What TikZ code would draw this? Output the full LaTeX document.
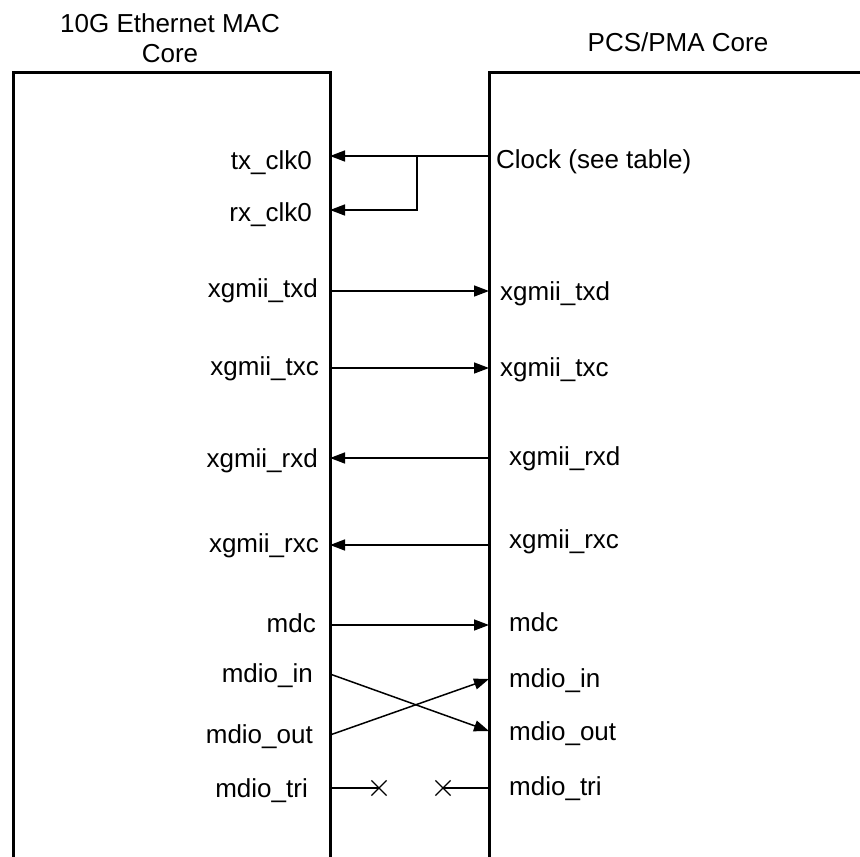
\documentclass[tikz,border=0pt]{standalone}
\usepackage{fontspec}
\setmainfont{Liberation Sans}
\usetikzlibrary{arrows.meta,shapes.misc}
\tikzset{
  core/.style={line width=3pt},
  sig/.style={line width=1.5pt},
  sigarr/.style={sig,-{Triangle[length=15pt,width=11pt]}},
  lbl/.style={inner sep=0pt,font=\fontsize{26}{30}\selectfont},
  lblL/.style={lbl,anchor=base east},
  lblR/.style={lbl,anchor=base west},
  xmark/.style={cross out,draw,line width=1.2pt,minimum size=14pt,inner sep=0pt},
}

\begin{document}
\begin{tikzpicture}[x=1pt,y=-1pt]
  \useasboundingbox (0,0) rectangle (860,857);
  % the two cores, open at the bottom
  \draw[core] (13,860) -- (13,72) -- (330,72) -- (330,860);
  \draw[core] (489,860) -- (489,72) -- (863,72);
  \node[lbl,anchor=base] (macA) at (170,32) {10G Ethernet MAC};
  \node[lbl,anchor=base] (macB) at (170,62) {Core};
  \node[lbl,anchor=base] (pcs) at (678,51) {PCS/PMA Core};

  % MAC side ports
  \node[lblL] (txclk) at (312,169) {tx\_clk0};
  \node[lblL] (rxclk) at (312,221) {rx\_clk0};
  \node[lblL] (txdL) at (318,297) {xgmii\_txd};
  \node[lblL] (txcL) at (319,375) {xgmii\_txc};
  \node[lblL] (rxdL) at (318,467) {xgmii\_rxd};
  \node[lblL] (rxcL) at (319,552) {xgmii\_rxc};
  \node[lblL] (mdcL) at (316,632) {mdc};
  \node[lblL] (mdinL) at (313,682) {mdio\_in};
  \node[lblL] (mdoutL) at (313,743) {mdio\_out};
  \node[lblL] (mdtriL) at (308,797) {mdio\_tri};

  % PCS/PMA side ports
  \node[lblR] (clk) at (496,168) {Clock (see table)};
  \node[lblR] (txdR) at (500,300) {xgmii\_txd};
  \node[lblR] (txcR) at (500,376) {xgmii\_txc};
  \node[lblR] (rxdR) at (509,465) {xgmii\_rxd};
  \node[lblR] (rxcR) at (509,548) {xgmii\_rxc};
  \node[lblR] (mdcR) at (509,631) {mdc};
  \node[lblR] (mdinR) at (509,687) {mdio\_in};
  \node[lblR] (mdoutR) at (509,740) {mdio\_out};
  \node[lblR] (mdtriR) at (509,795) {mdio\_tri};

  % pins on the core edges
  \coordinate (txclkP) at (330,156);
  \coordinate (rxclkP) at (330,210);
  \coordinate (clkP) at (489,156);
  \coordinate (clkJ) at (417,156);
  \coordinate (txdA) at (330,291);  \coordinate (txdB) at (489,291);
  \coordinate (txcA) at (330,368);  \coordinate (txcB) at (489,368);
  \coordinate (rxdA) at (330,458);  \coordinate (rxdB) at (489,458);
  \coordinate (rxcA) at (330,545);  \coordinate (rxcB) at (489,545);
  \coordinate (mdcA) at (330,625);  \coordinate (mdcB) at (489,625);
  \coordinate (mdinA) at (330,674); \coordinate (mdinB) at (489,679);
  \coordinate (mdoutA) at (330,735); \coordinate (mdoutB) at (489,731);
  \coordinate (mdtriA) at (330,788); \coordinate (mdtriB) at (489,788);
  \node[xmark] (xL) at (379,788) {};
  \node[xmark] (xR) at (443,788) {};

  % connections
  \draw[sigarr] (clkP) -- (txclkP);
  \draw[sigarr] (clkJ) |- (rxclkP);
  \draw[sigarr] (txdA) -- (txdB);
  \draw[sigarr] (txcA) -- (txcB);
  \draw[sigarr] (rxdB) -- (rxdA);
  \draw[sigarr] (rxcB) -- (rxcA);
  \draw[sigarr] (mdcA) -- (mdcB);
  \draw[sigarr] (mdinA) -- (mdoutB);
  \draw[sigarr] (mdoutA) -- (mdinB);
  \draw[sig] (mdtriA) -- (xL.center);
  \draw[sig] (mdtriB) -- (xR.center);
\end{tikzpicture}
\end{document}
